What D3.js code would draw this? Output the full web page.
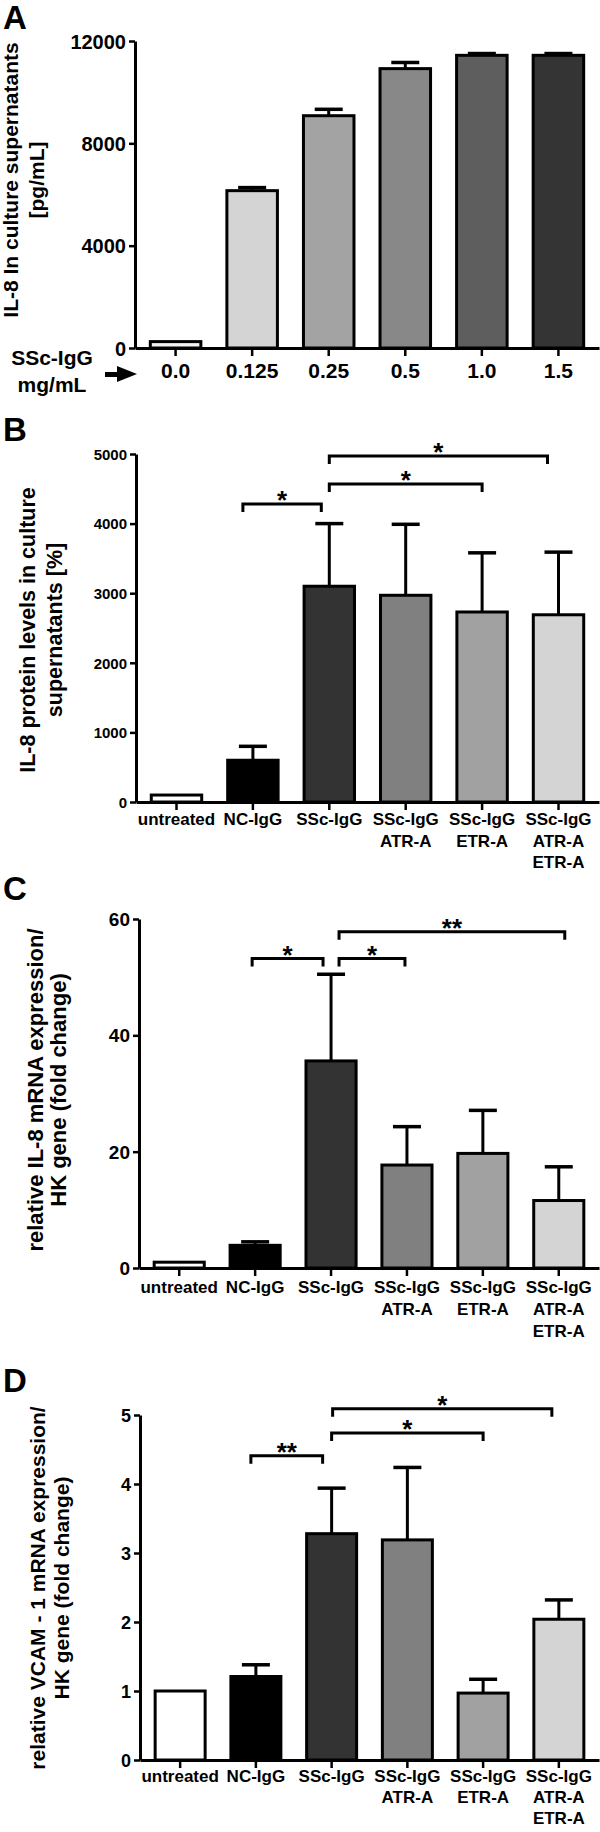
<!DOCTYPE html>
<html><head><meta charset="utf-8">
<script src="https://cdn.jsdelivr.net/npm/d3@7/dist/d3.min.js"></script>
<style>
body{margin:0;background:#fff}
svg text{font-family:"Liberation Sans",Arial,Helvetica,sans-serif;font-weight:bold;fill:#000}
</style>
</head><body>
<svg id="c" width="600" height="1832"></svg>
<script>
// ---------- DATA ----------
const catsA = ["0.0","0.125","0.25","0.5","1.0","1.5"];
const valuesA = [250, 6150, 9080, 10920, 11440, 11440];
const errTopA = [250, 6270, 9330, 11160, 11510, 11510];
const ticksA = [0, 4000, 8000, 12000];

const groups = ["untreated","NC-IgG","SSc-IgG","SSc-IgG|ATR-A","SSc-IgG|ETR-A","SSc-IgG|ATR-A|ETR-A"];

const valuesB = [100, 600, 3100, 2970, 2730, 2690];
const errTopB = [100, 800, 4000, 3990, 3580, 3590];
const ticksB = [0, 1000, 2000, 3000, 4000, 5000];
const bracketsB = [
  {a:1, b:2, y:4280, label:"*", dxa:-10, dxb:-8},
  {a:2, b:4, y:4568, label:"*", dxa:0, dxb:0},
  {a:2, b:5, y:4971, label:"*", dxa:0, dxb:-11}
];

const valuesC = [1.0, 3.9, 35.6, 17.7, 19.7, 11.6];
const errTopC = [1.0, 4.5, 50.5, 24.3, 27.1, 17.4];
const ticksC = [0, 20, 40, 60];
const bracketsC = [
  {a:1, b:2, y:53.2, label:"*", dxa:-3, dxb:-8},
  {a:2, b:3, y:53.2, label:"*", dxa:8, dxb:-2},
  {a:2, b:5, y:57.8, label:"**", dxa:8, dxb:6}
];

const valuesD = [1.0, 1.21, 3.28, 3.19, 0.97, 2.04];
const errTopD = [1.0, 1.38, 3.94, 4.24, 1.17, 2.32];
const ticksD = [0, 1, 2, 3, 4, 5];
const bracketsD = [
  {a:1, b:2, y:4.41, label:"**", dxa:-5, dxb:-9},
  {a:2, b:4, y:4.74, label:"*", dxa:0, dxb:0},
  {a:2, b:5, y:5.09, label:"*", dxa:1, dxb:-7}
];

const fillsA = ["#f2f2f2","#d4d4d4","#a3a3a3","#888888","#5e5e5e","#343434"];
const fillsG = ["#ffffff","#000000","#333333","#808080","#a1a1a1","#d4d4d4"];

// ---------- DRAW ----------
const svg = d3.select("#c");

function panel(o) {
  const g = svg.append("g");
  const x = d3.scaleBand().domain(o.cats).range([o.axisX, 599]).paddingInner(0.34).paddingOuter(0.2);
  const y = d3.scaleLinear().domain([0, o.yMax]).range([o.yBot, o.yTop]);

  // bars
  g.selectAll("rect.bar").data(o.values).join("rect")
    .attr("x", (d,i) => x(o.cats[i]))
    .attr("y", d => y(d))
    .attr("width", x.bandwidth())
    .attr("height", d => o.yBot - y(d))
    .attr("fill", (d,i) => o.fills[i])
    .attr("stroke", "#000").attr("stroke-width", 3);

  // error bars (upper only)
  const cap = 28;
  o.errTop.forEach((e, i) => {
    if (e <= o.values[i]) return;
    const cx = x(o.cats[i]) + x.bandwidth()/2;
    g.append("line").attr("x1", cx).attr("x2", cx).attr("y1", y(o.values[i])).attr("y2", y(e))
      .attr("stroke", "#000").attr("stroke-width", 3);
    g.append("line").attr("x1", cx - cap/2).attr("x2", cx + cap/2).attr("y1", y(e)).attr("y2", y(e))
      .attr("stroke", "#000").attr("stroke-width", 3.5);
  });

  // y axis
  const ya = g.append("g").attr("transform", `translate(${o.axisX},0)`)
    .call(d3.axisLeft(y).tickValues(o.ticks).tickSize(6).tickSizeOuter(0).tickPadding(3).tickFormat(d3.format("d")));
  ya.select(".domain").attr("stroke-width", 3).attr("stroke", "#000");
  ya.selectAll(".tick line").attr("stroke-width", 2.5).attr("stroke", "#000");
  ya.selectAll(".tick text").style("font-size", o.tickFont + "px").attr("dy", "0.35em");

  // x axis
  const xa = g.append("g").attr("transform", `translate(0,${o.yBot})`)
    .call(d3.axisBottom(x).tickSize(8).tickSizeOuter(0).tickFormat(""));
  xa.select(".domain").attr("stroke-width", 3).attr("stroke", "#000");
  xa.selectAll(".tick line").attr("stroke-width", 2.5).attr("stroke", "#000");

  // x labels (multi-line)
  o.cats.forEach(c => {
    const t = g.append("text").attr("text-anchor", "middle").style("font-size", o.labFont + "px");
    c.split("|").forEach((ln, k) => {
      t.append("tspan").attr("x", x(c) + x.bandwidth()/2).attr("y", o.labBase + k * o.labStep).text(ln);
    });
  });

  // y title
  const tt = g.append("text").attr("text-anchor", "middle").style("font-size", o.titleFont + "px")
    .attr("transform", `translate(0,${o.titleCy}) rotate(-90)`);
  o.title.forEach((ln, k) => {
    tt.append("tspan").attr("x", 0).attr("y", o.titleX[k]).text(ln);
  });

  // brackets
  (o.brackets || []).forEach(b => {
    const xa1 = x(o.cats[b.a]) + x.bandwidth()/2 + b.dxa;
    const xb1 = x(o.cats[b.b]) + x.bandwidth()/2 + b.dxb;
    const yy = y(b.y);
    g.append("path").attr("d", `M${xa1},${yy+8}V${yy}H${xb1}V${yy+8}`)
      .attr("fill", "none").attr("stroke", "#000").attr("stroke-width", 3);
    g.append("text").attr("x", (xa1 + xb1)/2).attr("y", yy + 5).attr("text-anchor", "middle")
      .style("font-size", "26px").text(b.label);
  });

  // panel letter
  svg.append("text").attr("x", 3).attr("y", o.letterY).style("font-size", "33px").text(o.letter);
  return {x, y, g};
}

const pA = panel({
  letter:"A", letterY:29, cats:catsA, values:valuesA, errTop:errTopA, fills:fillsA,
  yMax:12000, ticks:ticksA, yTop:41, yBot:348, axisX:135, tickFont:20,
  labFont:21, labBase:378, labStep:22,
  title:["IL-8 In culture supernatants","[pg/mL]"], titleX:[18,44], titleCy:180, titleFont:21
});
// "SSc-IgG mg/mL" label with arrow
pA.g.append("text").attr("x", 52).attr("y", 365).attr("text-anchor", "middle").style("font-size", "21px").text("SSc-IgG");
pA.g.append("text").attr("x", 52).attr("y", 392).attr("text-anchor", "middle").style("font-size", "21px").text("mg/mL");
pA.g.append("path").attr("d", "M105,372H117V366L137,374L117,382V377H105Z").attr("fill", "#000");

panel({
  letter:"B", letterY:441, cats:groups, values:valuesB, errTop:errTopB, fills:fillsG,
  yMax:5000, ticks:ticksB, yTop:454, yBot:802, axisX:136, tickFont:15,
  labFont:17, labBase:825, labStep:21.5,
  title:["IL-8 protein levels in culture","supernatants [%]"], titleX:[35,62], titleCy:630, titleFont:21.5,
  brackets:bracketsB
});

panel({
  letter:"C", letterY:900, cats:groups, values:valuesC, errTop:errTopC, fills:fillsG,
  yMax:60, ticks:ticksC, yTop:919, yBot:1268, axisX:139, tickFont:19,
  labFont:17, labBase:1293, labStep:22,
  title:["relative IL-8 mRNA expression/","HK gene (fold change)"], titleX:[43,66], titleCy:1090, titleFont:22,
  brackets:bracketsC
});

panel({
  letter:"D", letterY:1392, cats:groups, values:valuesD, errTop:errTopD, fills:fillsG,
  yMax:5, ticks:ticksD, yTop:1415, yBot:1760, axisX:140, tickFont:18,
  labFont:17, labBase:1782, labStep:21,
  title:["relative VCAM - 1 mRNA expression/","HK gene (fold change)"], titleX:[45,69], titleCy:1588, titleFont:21,
  brackets:bracketsD
});
</script>
</body></html>
